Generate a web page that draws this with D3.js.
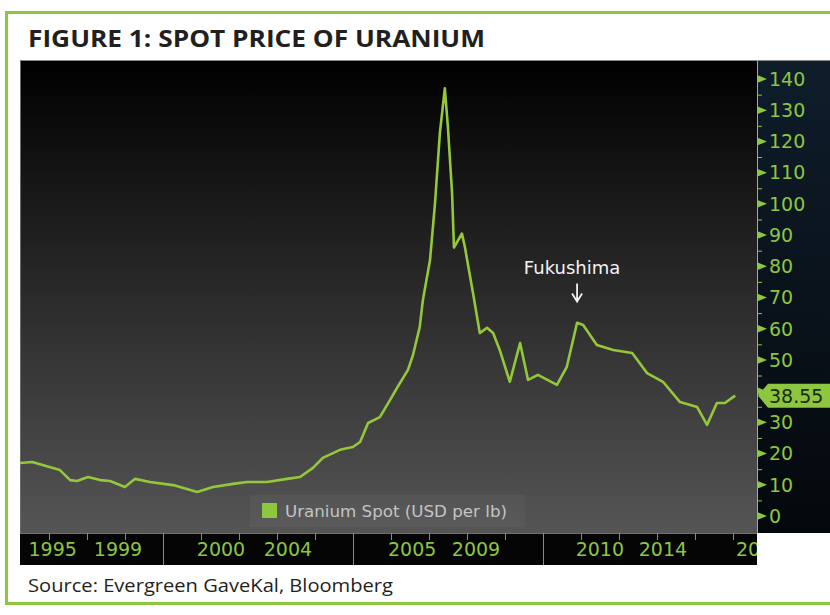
<!DOCTYPE html>
<html>
<head>
<meta charset="utf-8">
<script src="https://cdn.jsdelivr.net/npm/d3@7"></script>
<style>
  html, body { margin: 0; padding: 0; background: #fff; }
  svg { display: block; }
</style>
</head>
<body>
<svg id="chart" width="830" height="615"></svg>
<script>
// Uranium spot price, USD per lb, by decimal year
var years = [1996.24, 1996.56, 1997.29, 1997.56, 1997.74, 1998.03, 1998.35, 1998.61, 1999.0, 1999.27,
    1999.66, 2000.27, 2000.9, 2001.32, 2001.85, 2002.21, 2002.74, 2003.27, 2003.61, 2003.95,
    2004.21, 2004.66, 2005.0, 2005.19, 2005.4, 2005.71, 2005.98, 2006.16, 2006.45, 2006.58,
    2006.76, 2006.84, 2007.03, 2007.16, 2007.29, 2007.42, 2007.5, 2007.61, 2007.66, 2007.87,
    2007.95, 2008.16, 2008.34, 2008.53, 2008.69, 2008.87, 2009.13, 2009.4, 2009.61, 2009.87,
    2010.37, 2010.63, 2010.9, 2011.06, 2011.42, 2011.85, 2012.35, 2012.74, 2013.16, 2013.61,
    2014.06, 2014.32, 2014.58, 2014.79, 2015.06];
var prices = [17.0, 17.3, 14.7, 11.5, 11.2, 12.5, 11.5, 11.2, 9.3, 11.9,
    10.9, 9.9, 7.7, 9.3, 10.3, 10.9, 10.9, 11.9, 12.5, 15.4,
    18.6, 21.2, 22.1, 23.7, 29.8, 31.7, 37.2, 41.0, 46.8, 51.5,
    60.6, 69.0, 82.0, 100.0, 122.8, 137.0, 124.7, 103.5, 86.0, 90.5,
    86.0, 71.5, 58.6, 60.3, 58.6, 53.0, 43.0, 55.4, 43.6, 45.2,
    42.0, 47.8, 61.9, 61.2, 54.8, 53.2, 52.2, 45.8, 43.0, 36.5,
    34.9, 29.2, 36.2, 36.2, 38.55];
var lastValue = 38.55;

var yTicks = d3.range(0, 141, 10);
var yMinorTicks = d3.range(5, 141, 10);

// bottom strip labels as printed by the terminal
var xTickLabels = ['1995', '1999', '2000', '2004', '2005', '2009', '2010', '2014', '20'];
var xTickYears = [1997.1, 1998.82, 2001.53, 2003.29, 2006.56, 2008.24, 2011.5, 2013.16, 2015.4];
var xSeparators = [2000, 2005, 2010];
var xYearTicks = d3.range(1997, 2016, 1);

var annotation = { label: 'Fukushima', year: 2010.9, value: 62 };

var title = 'FIGURE 1: SPOT PRICE OF URANIUM';
var source = 'Source: Evergreen GaveKal, Bloomberg';
var legendLabel = 'Uranium Spot (USD per lb)';

var green = '#8dc63f';
var lineGreen = '#94c83a';
var axisFont = 'DejaVu Sans, sans-serif';

var plot = { left: 20, top: 60, right: 757, bottom: 533 };
var strip = { top: 533, bottom: 565 };

var svg = d3.select('#chart');

var x = d3.scaleLinear().domain([1996.24, 1996.24 + (plot.right - plot.left) / 38]).range([plot.left, plot.right]);
var y = d3.scaleLinear().domain([0, 140]).range([516, 79]);

var defs = svg.append('defs');
var bg = defs.append('linearGradient').attr('id', 'bg').attr('x1', 0).attr('y1', 0).attr('x2', 0).attr('y2', 1);
bg.append('stop').attr('offset', '0%').attr('stop-color', '#000');
bg.append('stop').attr('offset', '100%').attr('stop-color', '#555');
var panel = defs.append('linearGradient').attr('id', 'panel').attr('x1', 0).attr('y1', 0).attr('x2', 0).attr('y2', 1);
panel.append('stop').attr('offset', '0%').attr('stop-color', '#0f1d2b');
panel.append('stop').attr('offset', '100%').attr('stop-color', '#04080c');
defs.append('clipPath').attr('id', 'plotClip').append('rect')
    .attr('x', plot.left).attr('y', plot.top).attr('width', plot.right - plot.left).attr('height', plot.bottom - plot.top);
defs.append('clipPath').attr('id', 'stripClip').append('rect')
    .attr('x', plot.left).attr('y', strip.top).attr('width', plot.right - plot.left).attr('height', strip.bottom - strip.top);

// outer frame
svg.append('rect')
    .attr('x', 6.5).attr('y', 12.5).attr('width', 840).attr('height', 591)
    .attr('fill', 'none').attr('stroke', green).attr('stroke-width', 3);

svg.append('text')
    .attr('x', 28).attr('y', 47)
    .attr('font-family', 'Open Sans, sans-serif').attr('font-weight', 700).attr('font-size', 24)
    .attr('textLength', 457).attr('lengthAdjust', 'spacingAndGlyphs')
    .attr('fill', '#231f20')
    .text(title);

// backgrounds
svg.append('rect')
    .attr('x', plot.left).attr('y', plot.top).attr('width', plot.right - plot.left).attr('height', plot.bottom - plot.top)
    .attr('fill', 'url(#bg)');
svg.append('rect')
    .attr('x', plot.right).attr('y', plot.top).attr('width', 830 - plot.right).attr('height', plot.bottom - plot.top)
    .attr('fill', 'url(#panel)');
svg.append('rect')
    .attr('x', plot.left).attr('y', strip.top).attr('width', plot.right - plot.left).attr('height', strip.bottom - strip.top)
    .attr('fill', '#050505');
svg.append('line')
    .attr('x1', plot.left).attr('x2', 830).attr('y1', plot.top + 0.5).attr('y2', plot.top + 0.5)
    .attr('stroke', '#8a8a8a').attr('stroke-width', 1);
svg.append('line')
    .attr('x1', plot.left + 0.5).attr('x2', plot.left + 0.5).attr('y1', plot.top).attr('y2', plot.bottom)
    .attr('stroke', '#6a6a6a').attr('stroke-width', 1);

// legend
var legend = svg.append('g').attr('transform', 'translate(250,495)');
legend.append('rect')
    .attr('width', 275).attr('height', 32)
    .attr('fill', '#fff').attr('fill-opacity', 0.04);
legend.append('rect')
    .attr('x', 12).attr('y', 8).attr('width', 15).attr('height', 15)
    .attr('fill', green);
legend.append('text')
    .attr('x', 35).attr('y', 22)
    .attr('font-family', axisFont).attr('font-size', 15)
    .attr('textLength', 222).attr('lengthAdjust', 'spacingAndGlyphs')
    .attr('fill', '#c4c4c4')
    .text(legendLabel);

// price line
var line = d3.line()
    .x(function (d) { return x(d[0]); })
    .y(function (d) { return y(d[1]); });

svg.append('path')
    .datum(d3.zip(years, prices))
    .attr('clip-path', 'url(#plotClip)')
    .attr('d', line)
    .attr('fill', 'none')
    .attr('stroke', lineGreen)
    .attr('stroke-width', 2.6)
    .attr('stroke-linejoin', 'round');

// annotation
var ax = x(annotation.year);
var ay = y(annotation.value);
svg.append('text')
    .attr('x', ax - 5).attr('y', ay - 48)
    .attr('text-anchor', 'middle')
    .attr('font-family', axisFont).attr('font-size', 18)
    .attr('fill', '#f2f2f2')
    .text(annotation.label);
svg.append('path')
    .attr('d', 'M' + ax + ',' + (ay - 39) + 'V' + (ay - 21) +
        'M' + (ax - 5) + ',' + (ay - 29) + 'L' + ax + ',' + (ay - 21) + 'L' + (ax + 5) + ',' + (ay - 29))
    .attr('fill', 'none').attr('stroke', '#f2f2f2').attr('stroke-width', 1.8);

// right axis
var ly = y(lastValue);
var yAxis = svg.append('g').attr('class', 'y-axis');
yAxis.append('line')
    .attr('x1', plot.right + 0.5).attr('x2', plot.right + 0.5).attr('y1', plot.top).attr('y2', plot.bottom)
    .attr('stroke', green).attr('stroke-width', 1);
yAxis.selectAll('.minor').data(yMinorTicks).enter().append('line')
    .attr('x1', plot.right).attr('x2', plot.right + 5)
    .attr('y1', function (d) { return y(d) + 0.5; }).attr('y2', function (d) { return y(d) + 0.5; })
    .attr('stroke', green).attr('stroke-width', 1);
yAxis.selectAll('.major').data(yTicks).enter().append('path')
    .attr('d', function (d) {
        var ty = y(d);
        return 'M' + plot.right + ',' + (ty - 4) + 'L' + (plot.right + 10) + ',' + ty + 'L' + plot.right + ',' + (ty + 4) + 'Z';
    })
    .attr('fill', green);
// the last-value flag hides any tick label it sits on
yAxis.selectAll('.label').data(yTicks.filter(function (d) { return Math.abs(y(d) - ly) > 16; })).enter().append('text')
    .attr('x', 769).attr('y', function (d) { return y(d); })
    .attr('dy', '0.36em')
    .attr('font-family', axisFont).attr('font-size', 19)
    .attr('fill', green)
    .text(function (d) { return d; });

// last value flag
svg.append('path')
    .attr('d', 'M' + (plot.right + 1) + ',' + ly + 'L' + (plot.right + 11) + ',' + (ly - 12) + 'H830V' + (ly + 12) + 'H' + (plot.right + 11) + 'Z')
    .attr('fill', green);
svg.append('text')
    .attr('x', 769).attr('y', ly)
    .attr('dy', '0.36em')
    .attr('font-family', axisFont).attr('font-size', 19)
    .attr('fill', '#1c2a0c')
    .text(lastValue);

// bottom strip
var xAxis = svg.append('g').attr('class', 'x-axis').attr('clip-path', 'url(#stripClip)');
xAxis.append('line')
    .attr('x1', plot.left).attr('x2', plot.right).attr('y1', strip.top + 0.5).attr('y2', strip.top + 0.5)
    .attr('stroke', '#707a3a').attr('stroke-width', 1);
xAxis.selectAll('.year').data(xYearTicks).enter().append('line')
    .attr('x1', function (d) { return Math.round(x(d)) + 0.5; }).attr('x2', function (d) { return Math.round(x(d)) + 0.5; })
    .attr('y1', strip.top).attr('y2', strip.top + 7)
    .attr('stroke', '#8a8f6a').attr('stroke-width', 1);
xAxis.selectAll('.sep').data(xSeparators).enter().append('line')
    .attr('x1', function (d) { return Math.round(x(d)) + 0.5; }).attr('x2', function (d) { return Math.round(x(d)) + 0.5; })
    .attr('y1', strip.top).attr('y2', strip.bottom)
    .attr('stroke', '#8a8a8a').attr('stroke-width', 1);
xAxis.selectAll('.label').data(xTickLabels).enter().append('text')
    .attr('x', function (d, i) { return x(xTickYears[i]); })
    .attr('y', 556)
    .attr('text-anchor', 'middle')
    .attr('font-family', axisFont).attr('font-size', 19)
    .attr('fill', green)
    .text(function (d) { return d; });

svg.append('text')
    .attr('x', 28).attr('y', 592)
    .attr('font-family', 'Open Sans, sans-serif').attr('font-size', 18)
    .attr('textLength', 365).attr('lengthAdjust', 'spacingAndGlyphs')
    .attr('fill', '#231f20')
    .text(source);
</script>
</body>
</html>
